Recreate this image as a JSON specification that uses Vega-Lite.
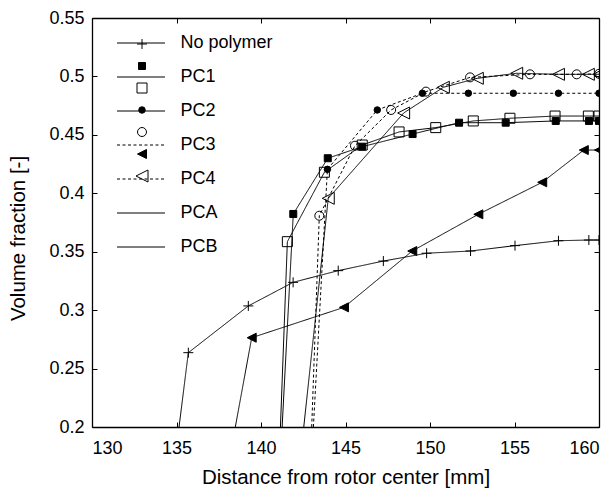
{
  "$schema": "https://vega.github.io/schema/vega-lite/v6.json",
  "width": 507,
  "height": 409,
  "autosize": {"type": "none"},
  "padding": {"left": 92, "top": 18, "right": 17, "bottom": 61},
  "background": "white",
  "config": {
    "view": {"stroke": null},
    "font": "Liberation Sans",
    "axis": {
      "domainColor": "black",
      "domainWidth": 1.3,
      "tickColor": "black",
      "tickWidth": 1,
      "tickSize": -5,
      "grid": false,
      "labelFont": "Liberation Sans",
      "labelFontSize": 18,
      "labelColor": "black",
      "titleFont": "Liberation Sans",
      "titleFontSize": 20.5,
      "titleFontWeight": "normal",
      "titleColor": "black"
    },
    "legend": {
      "orient": "none",
      "legendY": 17,
      "title": null,
      "padding": 0,
      "symbolStrokeWidth": 1,
      "labelFont": "Liberation Sans",
      "labelFontSize": 18,
      "labelColor": "black",
      "rowPadding": 4
    }
  },
  "data": {
    "values": [
      {"series": "No polymer", "x": 135.15, "y": 0.2},
      {"series": "No polymer", "x": 135.7, "y": 0.2636},
      {"series": "No polymer", "x": 139.25, "y": 0.3036},
      {"series": "No polymer", "x": 141.9, "y": 0.3238},
      {"series": "No polymer", "x": 144.57, "y": 0.3338},
      {"series": "No polymer", "x": 147.24, "y": 0.342},
      {"series": "No polymer", "x": 149.8, "y": 0.3487},
      {"series": "No polymer", "x": 152.4, "y": 0.3506},
      {"series": "No polymer", "x": 155.03, "y": 0.3552},
      {"series": "No polymer", "x": 157.6, "y": 0.3594},
      {"series": "No polymer", "x": 159.4, "y": 0.36},
      {"series": "No polymer", "x": 160, "y": 0.36},
      {"series": "PC1", "x": 141.25, "y": 0.2},
      {"series": "PC1", "x": 141.91, "y": 0.3823},
      {"series": "PC1", "x": 143.95, "y": 0.43},
      {"series": "PC1", "x": 145.99, "y": 0.4399},
      {"series": "PC1", "x": 148.97, "y": 0.4507},
      {"series": "PC1", "x": 151.72, "y": 0.4604},
      {"series": "PC1", "x": 154.48, "y": 0.4604},
      {"series": "PC1", "x": 157.44, "y": 0.4619},
      {"series": "PC1", "x": 159.41, "y": 0.4619},
      {"series": "PC1", "x": 160, "y": 0.4619},
      {"series": "PC2", "x": 141.15, "y": 0.2},
      {"series": "PC2", "x": 141.56, "y": 0.3586},
      {"series": "PC2", "x": 143.75, "y": 0.418},
      {"series": "PC2", "x": 145.99, "y": 0.4413},
      {"series": "PC2", "x": 148.17, "y": 0.4525},
      {"series": "PC2", "x": 150.34, "y": 0.4562},
      {"series": "PC2", "x": 152.56, "y": 0.4619},
      {"series": "PC2", "x": 154.73, "y": 0.4642},
      {"series": "PC2", "x": 157.4, "y": 0.4661},
      {"series": "PC2", "x": 159.37, "y": 0.4661},
      {"series": "PC2", "x": 160, "y": 0.4661},
      {"series": "PC3", "x": 143.1, "y": 0.2},
      {"series": "PC3", "x": 143.93, "y": 0.4205},
      {"series": "PC3", "x": 146.88, "y": 0.4713},
      {"series": "PC3", "x": 149.55, "y": 0.4856},
      {"series": "PC3", "x": 152.27, "y": 0.4856},
      {"series": "PC3", "x": 154.93, "y": 0.4856},
      {"series": "PC3", "x": 157.6, "y": 0.4856},
      {"series": "PC3", "x": 160, "y": 0.4856},
      {"series": "PC4", "x": 143.0, "y": 0.2},
      {"series": "PC4", "x": 143.45, "y": 0.3808},
      {"series": "PC4", "x": 145.56, "y": 0.4407},
      {"series": "PC4", "x": 147.7, "y": 0.4713},
      {"series": "PC4", "x": 149.76, "y": 0.487},
      {"series": "PC4", "x": 152.37, "y": 0.4992},
      {"series": "PC4", "x": 155.92, "y": 0.5018},
      {"series": "PC4", "x": 158.68, "y": 0.5018},
      {"series": "PC4", "x": 160, "y": 0.5022},
      {"series": "PCA", "x": 138.48, "y": 0.2},
      {"series": "PCA", "x": 139.45, "y": 0.2764},
      {"series": "PCA", "x": 144.91, "y": 0.3024},
      {"series": "PCA", "x": 148.95, "y": 0.3506},
      {"series": "PCA", "x": 152.86, "y": 0.382},
      {"series": "PCA", "x": 156.64, "y": 0.4094},
      {"series": "PCA", "x": 159.1, "y": 0.437},
      {"series": "PCA", "x": 160, "y": 0.437},
      {"series": "PCB", "x": 142.53, "y": 0.2},
      {"series": "PCB", "x": 143.98, "y": 0.3957},
      {"series": "PCB", "x": 148.44, "y": 0.4687},
      {"series": "PCB", "x": 150.79, "y": 0.4907},
      {"series": "PCB", "x": 152.8, "y": 0.4984},
      {"series": "PCB", "x": 155.13, "y": 0.5027},
      {"series": "PCB", "x": 157.6, "y": 0.5018},
      {"series": "PCB", "x": 159.37, "y": 0.5018},
      {"series": "PCB", "x": 160, "y": 0.5018}
    ]
  },
  "layer": [
    {
      "mark": {"type": "line", "color": "black", "strokeWidth": 1, "clip": true},
      "encoding": {
        "x": {
          "field": "x", "type": "quantitative",
          "scale": {"domain": [130, 160], "nice": false, "zero": false},
          "axis": {"orient": "bottom", "values": [130, 135, 140, 145, 150, 155, 160], "labelPadding": 17, "titlePadding": 10, "title": "Distance from rotor center [mm]"}
        },
        "y": {
          "field": "y", "type": "quantitative",
          "scale": {"domain": [0.2, 0.55], "nice": false, "zero": false},
          "axis": {"orient": "left", "values": [0.2, 0.25, 0.3, 0.35, 0.4, 0.45, 0.5, 0.55], "format": "~g", "labelPadding": 13, "titlePadding": 20, "titleY": 220, "title": "Volume fraction [-]"}
        },
        "detail": {"field": "series", "type": "nominal"},
        "strokeDash": {
          "field": "series", "type": "nominal",
          "scale": {"range": [[1, 0], [1, 0], [1, 0], [3, 2.5], [3, 2.5], [1, 0], [1, 0]]},
          "legend": {
            "legendX": 24.5,
            "legendY": 0.5,
            "rowPadding": -12,
            "symbolType": "stroke",
            "symbolSize": 2304,
            "symbolStrokeColor": "black",
            "symbolStrokeWidth": 1,
            "labelOffset": 15
          }
        }
      }
    },
    {
      "transform": [{"filter": "datum.y > 0.2"}],
      "mark": {"type": "point", "stroke": "black", "strokeWidth": 1, "opacity": 1, "clip": true},
      "encoding": {
        "x": {
          "field": "x", "type": "quantitative",
          "axis": {"orient": "top", "values": [130, 135, 140, 145, 150, 155, 160], "labels": false, "title": null}
        },
        "y": {
          "field": "y", "type": "quantitative",
          "axis": {"orient": "right", "values": [0.2, 0.25, 0.3, 0.35, 0.4, 0.45, 0.5, 0.55], "labels": false, "title": null}
        },
        "shape": {
          "field": "series", "type": "nominal",
          "scale": {
            "domain": ["No polymer", "PC1", "PC2", "PC3", "PC4", "PCA", "PCB"],
            "range": ["M-1,0H1M0,-1V1", "square", "square", "circle", "circle", "M-1,0L1,-1L1,1Z", "M-1,0L1,-1L1,1Z"]
          },
          "legend": {"legendX": 41, "legendY": 17, "labelOpacity": 0, "labelOffset": 10}
        },
        "size": {
          "field": "series", "type": "nominal",
          "scale": {
            "type": "ordinal",
            "domain": ["No polymer", "PC1", "PC2", "PC3", "PC4", "PCA", "PCB"],
            "range": [100, 49, 100, 42, 81, 81, 144]
          },
          "legend": {"legendX": 41, "legendY": 17, "labelOpacity": 0, "labelOffset": 10}
        },
        "fill": {
          "field": "series", "type": "nominal",
          "scale": {
            "domain": ["No polymer", "PC1", "PC2", "PC3", "PC4", "PCA", "PCB"],
            "range": ["transparent", "black", "transparent", "black", "transparent", "black", "transparent"]
          },
          "legend": {"legendX": 41, "legendY": 17, "labelOpacity": 0, "labelOffset": 10}
        }
      }
    }
  ],
  "resolve": {"axis": {"x": "independent", "y": "independent"}}
}
